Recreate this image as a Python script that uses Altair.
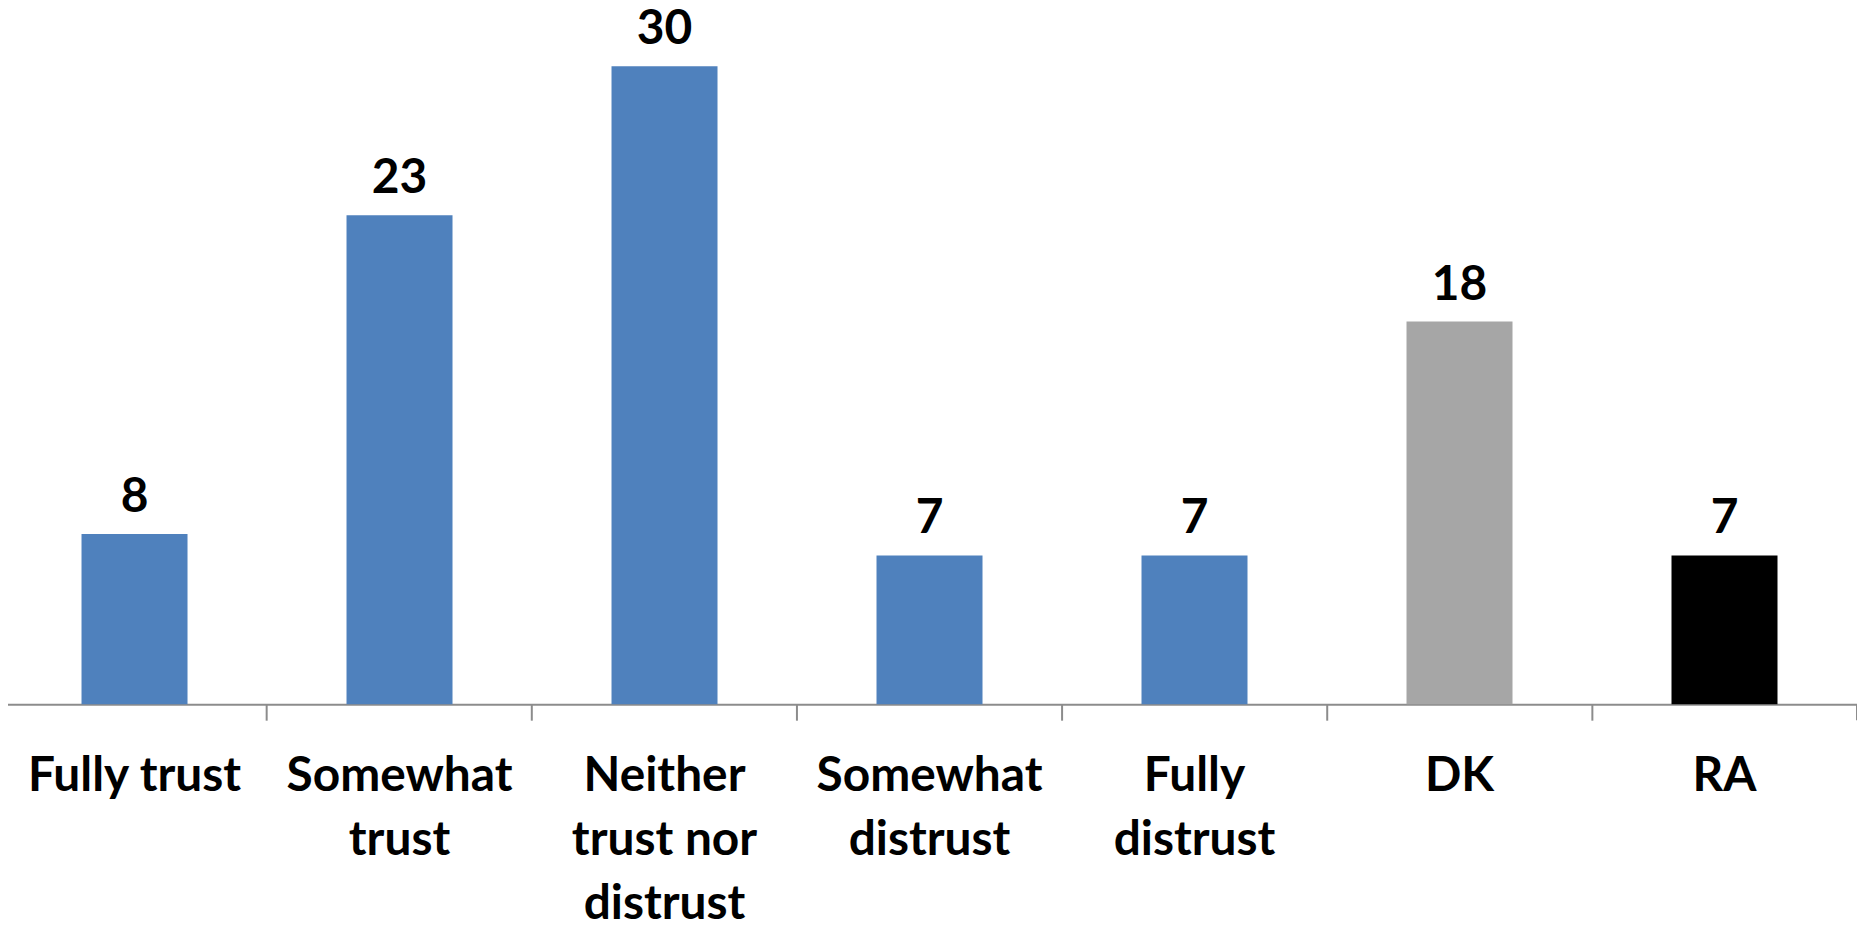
import altair as alt
import pandas as pd

categories = ["Fully trust", "Somewhat trust", "Neither trust nor distrust",
              "Somewhat distrust", "Fully distrust", "DK", "RA"]
label_lines = ["Fully trust", "Somewhat|trust", "Neither|trust nor|distrust",
               "Somewhat|distrust", "Fully|distrust", "DK", "RA"]
values = [8, 23, 30, 7, 7, 18, 7]
colors = ["#4F81BD", "#4F81BD", "#4F81BD", "#4F81BD", "#4F81BD", "#A6A6A6", "#000000"]

df = pd.DataFrame({"cat": label_lines, "value": values, "color": colors})

FONT = "Lato"
FS = 48
PLOT_H = 640
x_enc = alt.X("cat:N", sort=label_lines,
              scale=alt.Scale(paddingInner=0, paddingOuter=0),
              axis=alt.Axis(title=None, labelAngle=0, labelExpr="split(datum.label, '|')",
                            labelFont=FONT, labelFontSize=FS, labelFontWeight="bold",
                            labelColor="black", labelLineHeight=64, labelPadding=33,
                            labelBaseline="top", labelLimit=0,
                            domainColor="#8C8C8C", domainWidth=2,
                            tickColor="#8C8C8C", tickWidth=2, tickSize=16,
                            bandPosition=0, grid=False))
y_enc = alt.Y("value:Q", scale=alt.Scale(domain=[0, 30], nice=False), axis=None)

bars = alt.Chart(df).mark_bar(width=alt.RelativeBandSize(0.4)).encode(
    x=x_enc, y=y_enc, color=alt.Color("color:N", scale=None))

texts = alt.Chart(df).mark_text(font=FONT, fontSize=FS, fontWeight="bold",
                                baseline="alphabetic", dy=-22, color="black").encode(
    x=alt.X("cat:N", sort=label_lines), y=y_enc, text="value:Q")

end_tick = alt.Chart(df.tail(1)).mark_rule(color="#8C8C8C", strokeWidth=2).encode(
    x=alt.X("cat:N", sort=label_lines, bandPosition=1),
    y=alt.value(PLOT_H), y2=alt.value(PLOT_H + 16))

chart = alt.layer(bars, texts, end_tick).properties(
    width=1861, height=PLOT_H,
    padding={"left": -6, "right": 0, "top": 57, "bottom": 225},
    autosize=alt.AutoSizeParams(type="none"),
).configure_view(stroke=None)

chart.save("out.html", embed_options={"renderer": "svg", "actions": False})
